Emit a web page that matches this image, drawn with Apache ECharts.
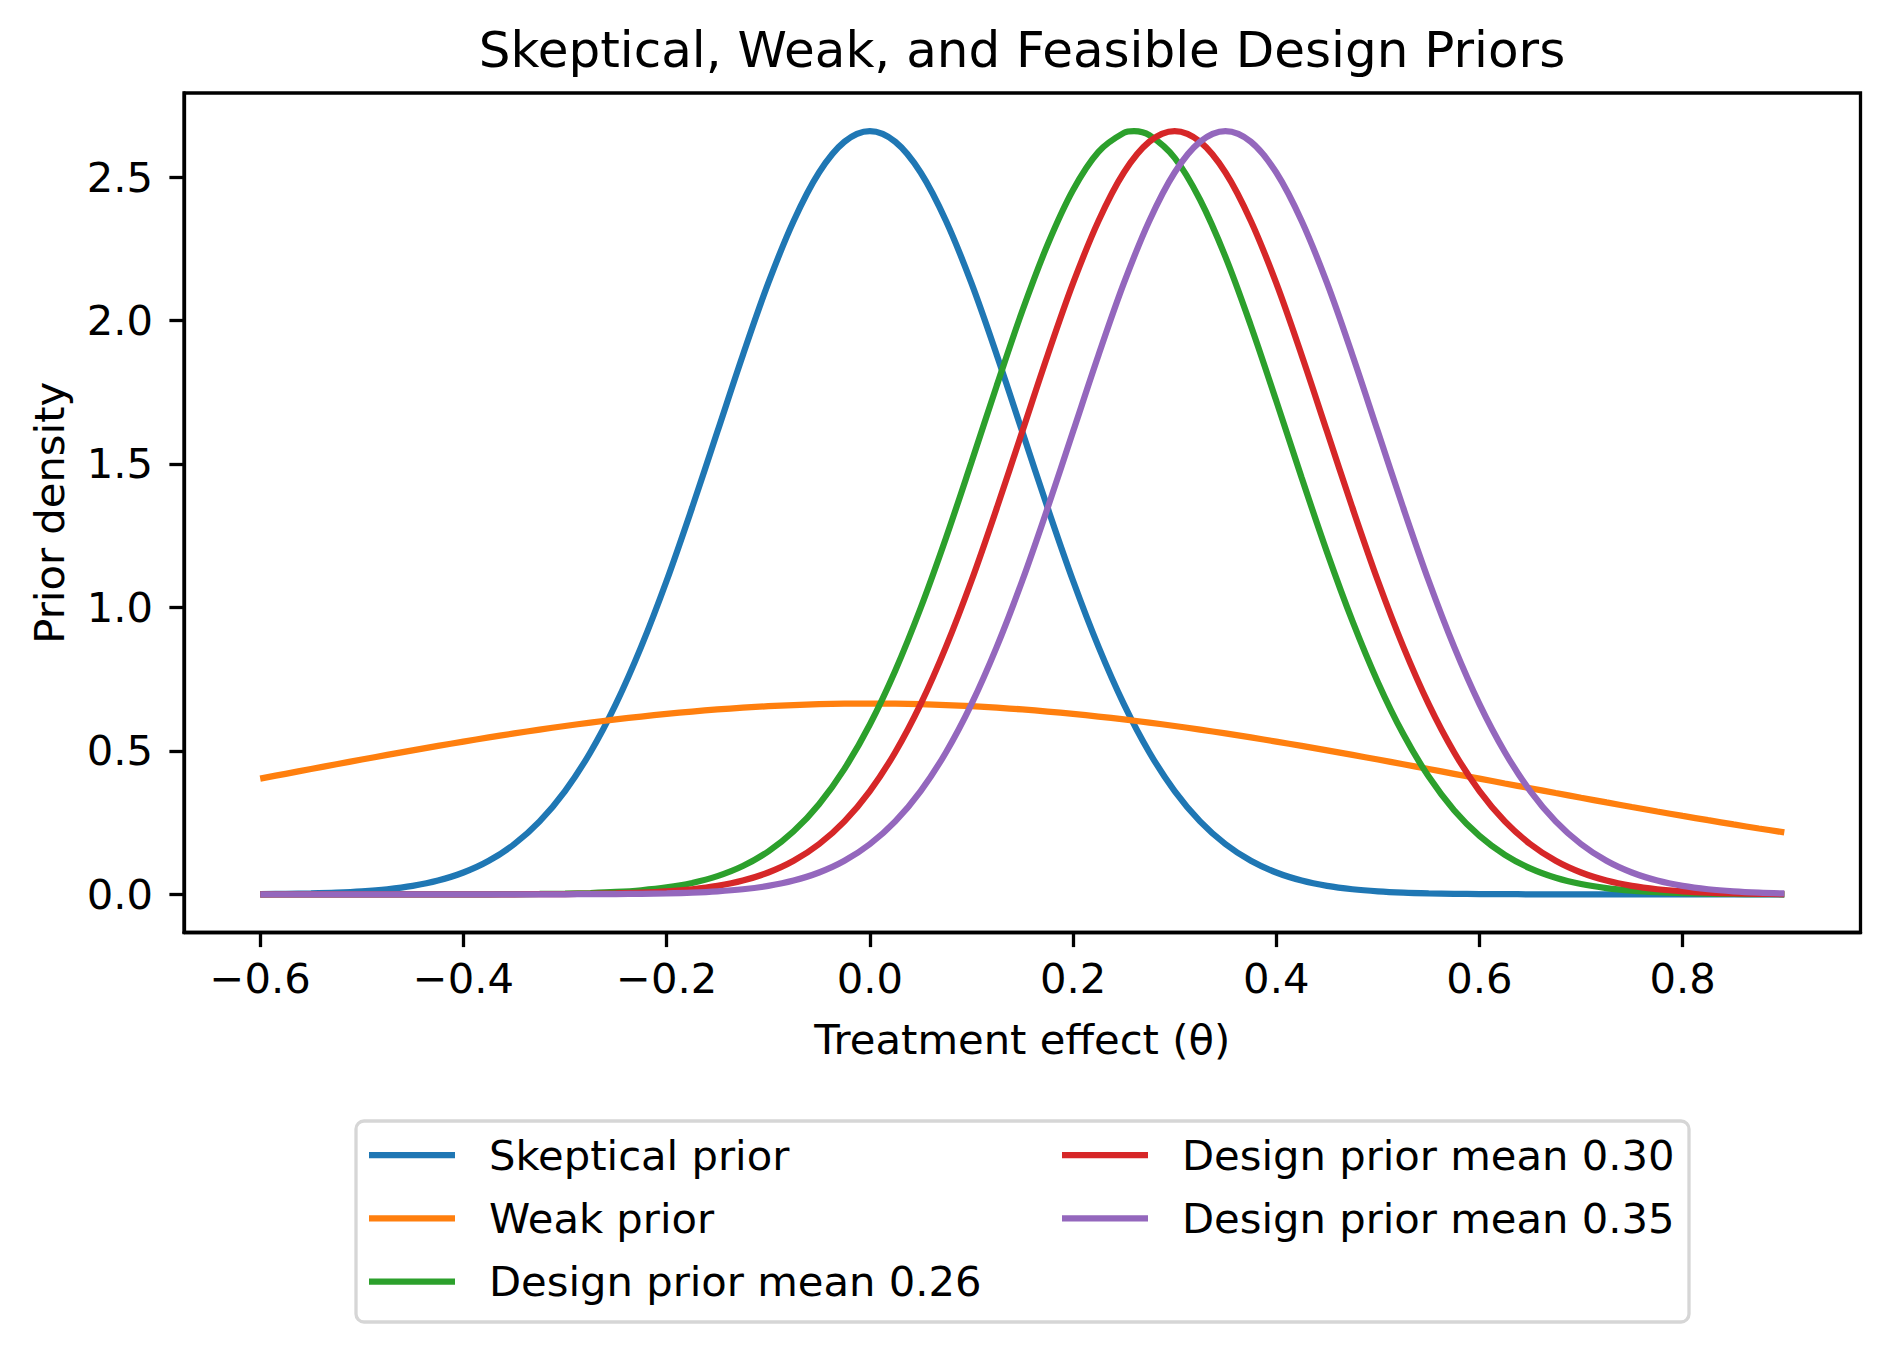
<!DOCTYPE html>
<html>
<head>
<meta charset="utf-8">
<script src="https://cdn.jsdelivr.net/npm/echarts@6/dist/echarts.min.js"></script>
<style>html,body{margin:0;padding:0;background:#fff}#c{width:1890px;height:1352px}</style>
</head>
<body>
<div id="c"></div>
<script>
// Data (x = treatment effect θ, y = prior density)
const thetaValues = [-0.6,-0.575,-0.55,-0.525,-0.5,-0.475,-0.45,-0.425,-0.4,-0.375,-0.35,-0.325,-0.3,-0.275,-0.25,-0.225,-0.2,-0.175,-0.15,-0.125,-0.1,-0.075,-0.05,-0.025,0,0.025,0.05,0.075,0.1,0.125,0.15,0.175,0.2,0.225,0.25,0.275,0.3,0.325,0.35,0.375,0.4,0.425,0.45,0.475,0.5,0.525,0.55,0.575,0.6,0.625,0.65,0.675,0.7,0.725,0.75,0.775,0.8,0.825,0.85,0.875,0.9];
const thetaDesign026 = [-0.6,-0.575,-0.55,-0.525,-0.5,-0.475,-0.45,-0.425,-0.4,-0.375,-0.35,-0.325,-0.3,-0.275,-0.25,-0.225,-0.2,-0.175,-0.15,-0.125,-0.1,-0.075,-0.05,-0.025,0,0.025,0.05,0.075,0.1,0.125,0.15,0.175,0.2,0.225,0.25,0.26,0.275,0.3,0.325,0.35,0.375,0.4,0.425,0.45,0.475,0.5,0.525,0.55,0.575,0.6,0.625,0.65,0.675,0.7,0.725,0.75,0.775,0.8,0.825,0.85,0.875,0.9];
const skepticalPrior = [0.0009,0.0017,0.0032,0.0058,0.0103,0.0177,0.0295,0.0480,0.0760,0.1169,0.175,0.2544,0.360,0.4954,0.663,0.8634,1.093,1.347,1.613,1.879,2.130,2.347,2.516,2.623,2.660,2.623,2.516,2.347,2.130,1.879,1.613,1.347,1.093,0.8634,0.663,0.4954,0.360,0.2544,0.175,0.1169,0.0760,0.0480,0.0295,0.0177,0.0103,0.0058,0.0032,0.0017,0.0009,0.0005,0.0002,0.0001,0,0,0,0,0,0,0,0,0];
const weakPrior = [0.4033,0.4201,0.4368,0.4534,0.4699,0.4860,0.5019,0.5174,0.5324,0.5469,0.5609,0.5742,0.5868,0.5986,0.6096,0.6197,0.6290,0.6372,0.6444,0.6506,0.6557,0.6597,0.6626,0.6643,0.6649,0.6643,0.6626,0.6597,0.6557,0.6506,0.6444,0.6372,0.6290,0.6197,0.6096,0.5986,0.5868,0.5742,0.5609,0.5469,0.5324,0.5174,0.5019,0.4860,0.4699,0.4534,0.4368,0.4201,0.4033,0.3865,0.3698,0.3531,0.3366,0.3204,0.3044,0.2887,0.2734,0.2584,0.2437,0.2296,0.2159];
const designPrior026 = [0,0,0,0,0,0,0,0.0001,0.0002,0.0003,0.0007,0.0013,0.0025,0.0046,0.0082,0.0143,0.0241,0.0397,0.0635,0.0987,0.1493,0.2196,0.3143,0.4374,0.5921,0.7796,0.998,1.243,1.506,1.774,2.033,2.265,2.455,2.588,2.654,2.660,2.646,2.567,2.421,2.222,1.982,1.720,1.452,1.192,0.9521,0.7395,0.5586,0.4104,0.2932,0.2037,0.1377,0.0906,0.0579,0.0360,0.0218,0.0128,0.0073,0.0041,0.0022,0.0012,0.0006,0.0003];
const designPrior030 = [0,0,0,0,0,0,0,0,0,0.0001,0.0002,0.0005,0.0009,0.0017,0.0032,0.0058,0.0103,0.0177,0.0295,0.0480,0.0760,0.1169,0.175,0.2544,0.360,0.4954,0.663,0.8634,1.093,1.347,1.613,1.879,2.130,2.347,2.516,2.623,2.660,2.623,2.516,2.347,2.130,1.879,1.613,1.347,1.093,0.8634,0.663,0.4954,0.360,0.2544,0.175,0.1169,0.0760,0.0480,0.0295,0.0177,0.0103,0.0058,0.0032,0.0017,0.0009];
const designPrior035 = [0,0,0,0,0,0,0,0,0,0,0,0.0001,0.0002,0.0005,0.0009,0.0017,0.0032,0.0058,0.0103,0.0177,0.0295,0.0480,0.0760,0.1169,0.175,0.2544,0.360,0.4954,0.663,0.8634,1.093,1.347,1.613,1.879,2.130,2.347,2.516,2.623,2.660,2.623,2.516,2.347,2.130,1.879,1.613,1.347,1.093,0.8634,0.663,0.4954,0.360,0.2544,0.175,0.1169,0.0760,0.0480,0.0295,0.0177,0.0103,0.0058,0.0032];
const seriesNames = ['Skeptical prior','Weak prior','Design prior mean 0.26','Design prior mean 0.30','Design prior mean 0.35'];
const seriesColors = ['#1f77b4','#ff7f0e','#2ca02c','#d62728','#9467bd'];
const xTicks = [-0.6,-0.4,-0.2,0,0.2,0.4,0.6,0.8];
const yTicks = [0,0.5,1.0,1.5,2.0,2.5];

const allX = [thetaValues, thetaValues, thetaDesign026, thetaValues, thetaValues];
const allY = [skepticalPrior, weakPrior, designPrior026, designPrior030, designPrior035];
const FONT = 'DejaVu Sans';
const fmt = v => v.toFixed(1).replace('-', '\u2212');

const chart = echarts.init(document.getElementById('c'), null, {renderer: 'svg', width: 1890, height: 1352});
const legendCommon = {
  orient: 'vertical', padding: 0, icon: 'rect', itemWidth: 86, itemHeight: 6.25, itemGap: 21.3,
  textStyle: {fontFamily: FONT, fontSize: 41.7, color: '#000', padding: [0,0,0,29]},
  selectedMode: false
};
chart.setOption({
  animation: false,
  backgroundColor: '#fff',
  color: seriesColors,
  title: {
    text: 'Skeptical, Weak, and Feasible Design Priors',
    left: 1022, top: 25, padding: 0, textAlign: 'center',
    textStyle: {fontFamily: FONT, fontSize: 50, fontWeight: 'normal', color: '#000'}
  },
  grid: {left: 184, right: 29.5, top: 93, bottom: 419.5, show: true, borderColor: '#000', borderWidth: 3.3, backgroundColor: 'transparent'},
  legend: [
    Object.assign({}, legendCommon, {left: 369, top: 1134, data: seriesNames.slice(0,3)}),
    Object.assign({}, legendCommon, {left: 1062, top: 1134, data: seriesNames.slice(3)})
  ],
  graphic: [{
    type: 'rect', z: -1, silent: true,
    shape: {x: 356, y: 1121, width: 1333, height: 201, r: 8},
    style: {fill: '#fff', stroke: '#d6d6d6', lineWidth: 3.3}
  }],
  xAxis: {
    type: 'value', min: -0.675, max: 0.975,
    name: 'Treatment effect (\u03b8)', nameLocation: 'middle', nameGap: 86,
    nameTextStyle: {fontFamily: FONT, fontSize: 41.7, color: '#000'},
    axisLine: {onZero: false, lineStyle: {color: '#000', width: 3.3}},
    axisTick: {length: 14.6, lineStyle: {color: '#000', width: 3.3}, customValues: xTicks},
    axisLabel: {margin: 25, fontFamily: FONT, fontSize: 41.7, color: '#000', customValues: xTicks, formatter: fmt},
    splitLine: {show: false}
  },
  yAxis: {
    type: 'value', min: -0.133, max: 2.793,
    name: 'Prior density', nameLocation: 'middle', nameGap: 114, nameRotate: 90,
    nameTextStyle: {fontFamily: FONT, fontSize: 41.7, color: '#000'},
    axisLine: {show: true, onZero: false, lineStyle: {color: '#000', width: 3.3}},
    axisTick: {show: true, length: 14.6, lineStyle: {color: '#000', width: 3.3}, customValues: yTicks},
    axisLabel: {margin: 31, fontFamily: FONT, fontSize: 41.7, color: '#000', customValues: yTicks, formatter: fmt},
    splitLine: {show: false}
  },
  series: seriesNames.map((name, i) => ({
    name: name, type: 'line', smooth: 0.35, showSymbol: false, symbol: 'none',
    lineStyle: {width: 6.25, color: seriesColors[i]},
    itemStyle: {color: seriesColors[i]},
    emphasis: {disabled: true},
    data: allX[i].map((x, j) => [x, allY[i][j]])
  }))
});
</script>
</body>
</html>
